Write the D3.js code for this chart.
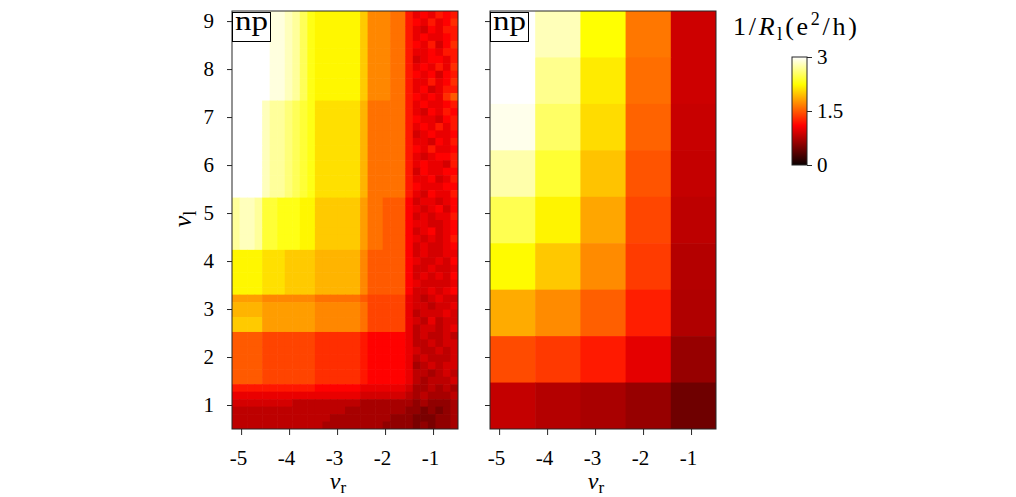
<!DOCTYPE html>
<html>
<head>
<meta charset="utf-8">
<script src="https://cdn.jsdelivr.net/npm/d3@7"></script>
<style>
body { margin: 0; background: #fff; }
text { font-family: "Liberation Serif", "DejaVu Serif", serif; fill: #000; }
.axis text { font-size: 21px; }
</style>
</head>
<body>
<div id="chart"></div>
<script>
// ticks and image extent (same for both panels)
var xTicks = [-5, -4, -3, -2, -1];
var yTicks = [1, 2, 3, 4, 5, 6, 7, 8, 9];
var cbTicks = [0, 1.5, 3];
var xExtent = [-5.19, -0.48];
var yExtent = [0.5, 9.21];

// simulation: rows nu_l = 9 .. 1, columns nu_r = -5 .. -1
var simRows = [
    [3.00, 2.79, 2.24, 1.63, 0.87],
    [3.00, 2.66, 2.15, 1.59, 0.87],
    [2.94, 2.54, 2.08, 1.54, 0.85],
    [2.75, 2.39, 1.97, 1.47, 0.83],
    [2.48, 2.19, 1.84, 1.41, 0.80],
    [2.22, 1.99, 1.72, 1.36, 0.76],
    [1.86, 1.72, 1.52, 1.23, 0.74],
    [1.43, 1.35, 1.21, 0.98, 0.63],
    [0.83, 0.76, 0.71, 0.63, 0.45]
];

// measurement: one char per pixel, top row first, value = levels.indexOf(c) / 10
var levels = '0123456789abcdefghijklmnopqrstu';
var measRows = [
    'uuuuuttsrpnmmmmmmkhhhggcabacbc',
    'uuuuuttsrpnmmmmmmkhhhggcbacabd',
    'uuuuuttsrpnmmmmmmkhhhggca9bacc',
    'uuuuuttsrpnmmmmmmkhhhggcabaabc',
    'uuuuuttsrpnmmmmmmkhhhggcbac9bd',
    'uuuuuttsrpnmmmmmmkhhhggcaabacc',
    'uuuuuttsrpnmmmmmmkhhhggc9abbac',
    'uuuuuttsrpnmmmmmmkhhhggcabacad',
    'uuuuuttsrpnmmmmmmkhhhggcbab9bc',
    'uuuuuttsrpnmmmmmmkhhhggcaacabd',
    'uuuuuttsrpnmmmmmmkhhhggcab9acc',
    'uuuuuttsrpnmmmmmmkhhhggcbabadf',
    'uuuusrrqponlllllljgggggcabaabc',
    'uuuusrrqponlllllljgggggca9bacb',
    'uuuusrrqponlllllljgggggcbaa9bc',
    'uuuusrrqponlllllljgggggcabacac',
    'uuuusrrqponlllllljgggggc9abaab',
    'uuuusrrqponlllllljgggggcaa9bac',
    'uuuusrrqponlllllljgggggcbacaab',
    'uuuusrrqponlllllljgggggca9abbc',
    'uuuusrrqponlllllljgggggcabaa9c',
    'uuuusrrqponlllllljgggggc9baabb',
    'uuuusrrqponlllllljgggggcaab9ac',
    'uuuusrrqponlllllljgggggcbaaabb',
    'uuuusrrqponlllllljgggggca9baac',
    'rssroonnnmmkkkkkkiggfffb9aa9ab',
    'rssroonnnmmkkkkkkiggfffba9ab9b',
    'rssroonnnmmkkkkkkiggfffb9a9aac',
    'rssroonnnmmkkkkkkiggfffbaa99ab',
    'rssroonnnmmkkkkkkiggfffb9ab9ab',
    'rssroonnnmmkkkkkkiggfffba9a9ac',
    'rssroonnnmmkkkkkkiggfffb9a99ab',
    'mmmmlllkkkkjjjjjjhfffffb9a99aa',
    'mmmmlllkkkkjjjjjjhfffffba99a9b',
    'mmmmlllkkkkjjjjjjhfffffb99a99a',
    'mmmmlllkkkkjjjjjjhfffffb9a9a9b',
    'mmmmlllkkkkjjjjjjhfffffba9999a',
    'mmmmlllkkkkjjjjjjhfffffb99a9ab',
    'iiiihhhhhhhggggggfeeeeea989a99',
    'jjjjiiiiiiihhhhhhgeeeeea99899a',
    'jjjjiiiiiiihhhhhhgeeeeea8999a9',
    'kkkkiiiiiiihhhhhhgeeeeea98a899',
    'kkkkiiiiiiihhhhhhgeeeeea89989a',
    'ffffeeeeeeeddddddcbbbbba898898',
    'ffffeeeeeeeddddddcbbbbba889899',
    'ffffeeeeeeeddddddcbbbbba988989',
    'ffffeeeeeeeddddddcbbbbba898889',
    'ffffeeeeeeeddddddcbbbbba789899',
    'ffffeeeeeeeddddddcbbbbba887898',
    'ffffeeeeeeeddddddcbbbbba878889',
    'cccccccccccbbbbbbaaaaaa9778787',
    'aaaaaaaaaaaaaaaaa9999998787778',
    '999999998888888887777777676667',
    '888888888888888777777776656567',
    '888888888888877777777666555667',
    '888888888888777777776666565667'
];

var plotTop = 11, plotBottom = 429, panelW = 226;

var svg = d3.select('#chart').append('svg')
    .attr('width', 1016)
    .attr('height', 497);

// matplotlib "hot"
var color = d3.scaleLinear()
    .domain([0, 0.365 * 3, 0.746 * 3, 3])
    .range(['#0b0000', '#ff0000', '#ffff00', '#ffffff'])
    .clamp(true);

var measGrid = measRows.map(function(r) {
    return r.split('').map(function(c) { return levels.indexOf(c) / 10; });
});

function drawPanel(left, grid, id, yLabels) {
    var xScale = d3.scaleLinear().domain(xExtent).range([left, left + panelW]),
        yScale = d3.scaleLinear().domain(yExtent).range([plotBottom, plotTop]);

    var cols = d3.scaleBand().domain(d3.range(grid[0].length)).range([xScale(xExtent[0]), xScale(xExtent[1])]),
        rows = d3.scaleBand().domain(d3.range(grid.length)).range([yScale(yExtent[1]), yScale(yExtent[0])]);

    var cells = [];
    grid.forEach(function(row, i) {
        row.forEach(function(v, j) { cells.push({i: i, j: j, v: v}); });
    });

    svg.append('clipPath').attr('id', id)
        .append('rect')
        .attr('x', left).attr('y', plotTop)
        .attr('width', panelW).attr('height', plotBottom - plotTop);

    var g = svg.append('g');

    g.append('g')
        .attr('clip-path', 'url(#' + id + ')')
        .selectAll('rect')
        .data(cells)
        .enter().append('rect')
        .attr('x', function(d) { return cols(d.j); })
        .attr('y', function(d) { return rows(d.i); })
        .attr('width', cols.bandwidth() + 0.6)
        .attr('height', rows.bandwidth() + 0.6)
        .attr('fill', function(d) { return color(d.v); });

    g.append('rect')
        .attr('x', left).attr('y', plotTop)
        .attr('width', panelW).attr('height', plotBottom - plotTop)
        .attr('fill', 'none')
        .attr('stroke', '#262626');

    var xa = g.append('g')
        .attr('class', 'axis')
        .attr('transform', 'translate(0,' + plotBottom + ')')
        .style('color', '#262626')
        .call(d3.axisBottom(xScale).tickValues(xTicks).tickSize(6).tickPadding(15)
            .tickFormat(function(d) { return String(d); }));
    xa.select('.domain').remove();
    xa.selectAll('text').attr('dx', -3).style('fill', '#000');

    var ya = g.append('g')
        .attr('class', 'axis')
        .attr('transform', 'translate(' + left + ',0)')
        .style('color', '#262626')
        .call(d3.axisLeft(yScale).tickValues(yTicks).tickSize(5).tickPadding(13)
            .tickFormat(function(d) { return yLabels ? String(d) : ''; }));
    ya.select('.domain').remove();
    ya.selectAll('text').style('fill', '#000');

    // "np" tag
    g.append('rect')
        .attr('x', left + 0.5).attr('y', 12.5)
        .attr('width', 38).attr('height', 29)
        .attr('fill', '#fff')
        .attr('stroke', '#000');
    g.append('text')
        .attr('x', left + 3).attr('y', 30)
        .attr('textLength', 33)
        .attr('lengthAdjust', 'spacingAndGlyphs')
        .style('font-size', '28px')
        .text('np');

    var xl = g.append('text')
        .attr('x', left + panelW / 2 - 7)
        .attr('y', 489)
        .attr('text-anchor', 'middle')
        .style('font-size', '24px');
    xl.append('tspan').style('font-style', 'italic').text('ν');
    xl.append('tspan').attr('dy', 4).style('font-size', '17px').text('r');
}

drawPanel(232, measGrid, 'clipMeas', true);
drawPanel(490, simRows, 'clipSim', false);

// y label
var yl = svg.append('text')
    .attr('transform', 'translate(191,219) rotate(-90)')
    .attr('text-anchor', 'middle')
    .style('font-size', '26px');
yl.append('tspan').style('font-style', 'italic').text('ν');
yl.append('tspan').attr('dy', 5).style('font-size', '18px').text('l');

// colorbar
var cbScale = d3.scaleLinear().domain([0, 3]).range([165, 57]);
var grad = svg.append('defs').append('linearGradient')
    .attr('id', 'hotGrad')
    .attr('x1', 0).attr('y1', 1).attr('x2', 0).attr('y2', 0);
grad.selectAll('stop')
    .data(color.domain())
    .enter().append('stop')
    .attr('offset', function(d) { return d / 3; })
    .attr('stop-color', function(d) { return color(d); });

svg.append('rect')
    .attr('x', 792).attr('y', cbScale(3))
    .attr('width', 15).attr('height', cbScale(0) - cbScale(3))
    .attr('fill', 'url(#hotGrad)')
    .attr('stroke', '#262626');

var cba = svg.append('g')
    .attr('class', 'axis')
    .attr('transform', 'translate(807,0)')
    .style('color', '#262626')
    .call(d3.axisRight(cbScale).tickValues(cbTicks).tickSize(5).tickPadding(5)
        .tickFormat(function(d) { return String(d); }));
cba.select('.domain').remove();
cba.selectAll('text').style('fill', '#000');

var title = svg.append('text')
    .attr('x', 795).attr('y', 35)
    .attr('text-anchor', 'middle')
    .attr('textLength', 124)
    .attr('lengthAdjust', 'spacing')
    .style('font-size', '26px');
title.append('tspan').text('1/');
title.append('tspan').style('font-style', 'italic').text('R');
title.append('tspan').attr('dy', 5).style('font-size', '18px').text('l');
title.append('tspan').attr('dy', -5).text('(e');
title.append('tspan').attr('dy', -10).style('font-size', '18px').text('2');
title.append('tspan').attr('dy', 10).text('/h)');
</script>
</body>
</html>
